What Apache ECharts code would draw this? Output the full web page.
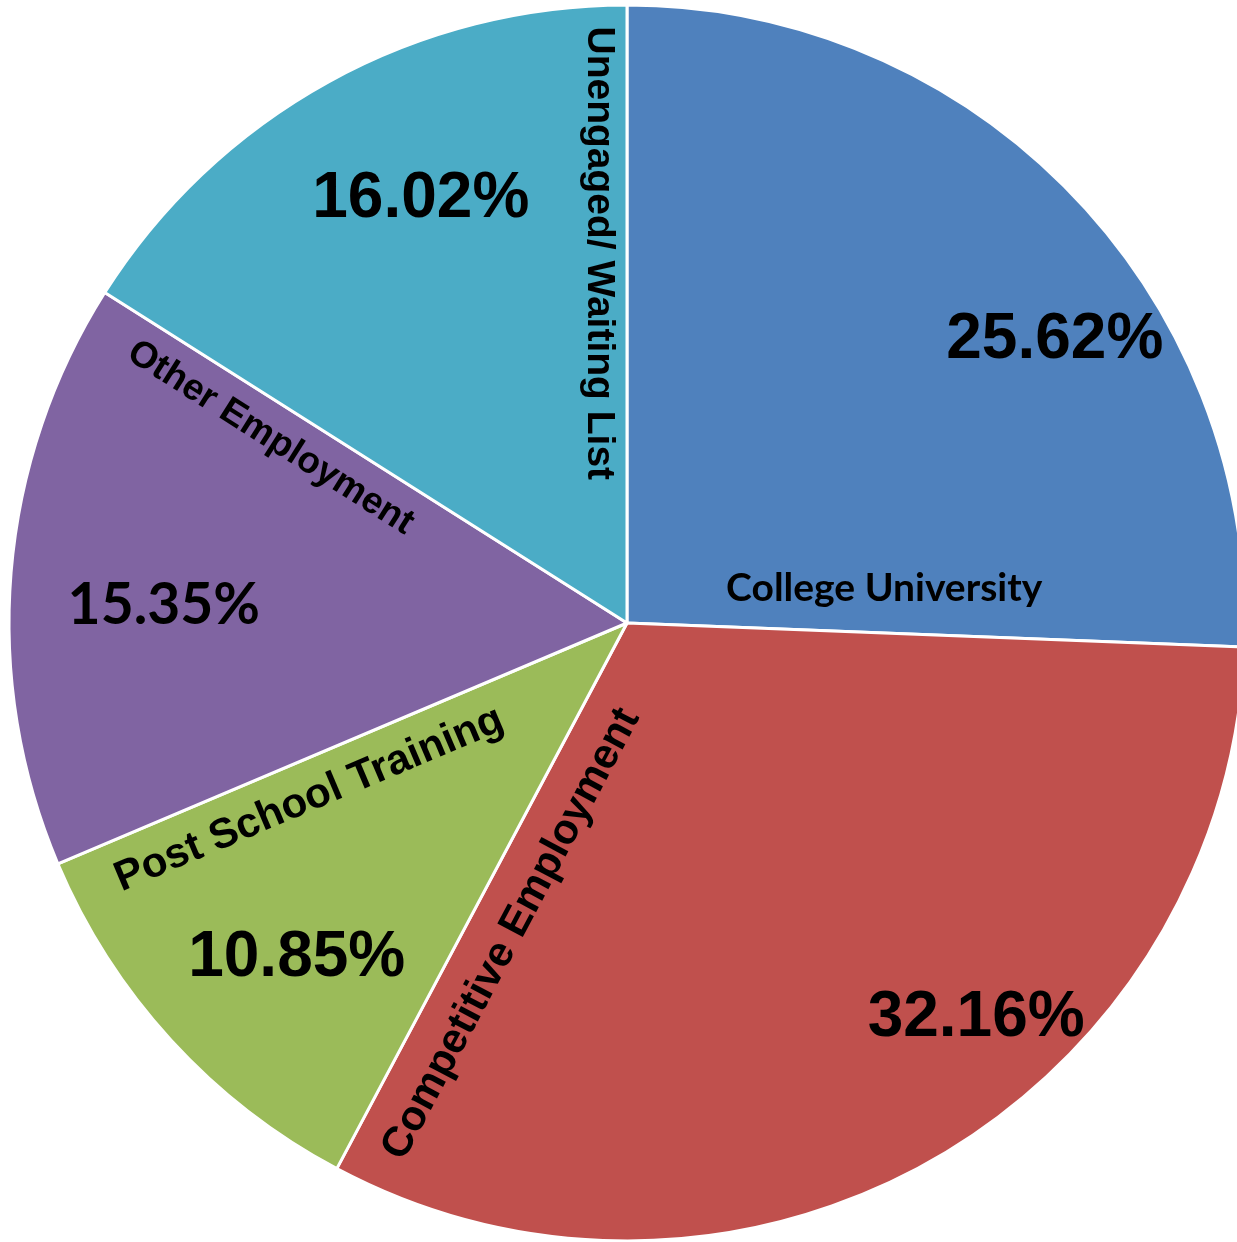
<!DOCTYPE html>
<html><head><meta charset="utf-8">
<script src="https://cdn.jsdelivr.net/npm/echarts/dist/echarts.min.js"></script>
<style>html,body{margin:0;padding:0;background:#fff;overflow:hidden}#c{width:1237px;height:1242px}</style>
</head><body><div id="c"></div>
<script>
// ---- data ----
const categories = ['College University', 'Competitive Employment', 'Post School Training', 'Other Employment', 'Unengaged/ Waiting List'];
const values = [25.62, 32.16, 10.85, 15.35, 16.02];

// ---- styles / layout (not data) ----
const colors = ['#4F81BD', '#C0504D', '#9BBB59', '#8064A2', '#4BACC6'];
const ARIAL = '"Liberation Sans", Arial, sans-serif';
const CALIBRI = 'Lato, "Noto Sans", sans-serif';
const pctFont = [ARIAL, ARIAL, ARIAL, CALIBRI, ARIAL];
const pctSize = [64, 64, 64, 57, 64];
const catFont = [CALIBRI, ARIAL, ARIAL, ARIAL, ARIAL];
const catSize = [39, 42, 42, 37, 39];
// percentage label placement: angle offset from slice mid-angle (deg), radius fraction
const pctAngleOff = [-10.4, 11.6, 3.0, 2.6, -2.9];
const pctRadFrac = [0.83, 0.853, 0.762, 0.75, 0.763];
// category label placement: angle offset from slice end boundary (deg), radius fraction
const catAngleOff = [9.96, 7.6, 6.1, 4.9, 4.4];
const catRadFrac = [0.42, 0.537, 0.588, 0.65, 0.60];
const catHorizontal = [true, false, false, false, false];

const CX = 627, CY = 623, R = 618;
const total = values.reduce((a, b) => a + b, 0);
const cum = [0];
values.forEach((v, i) => cum.push(cum[i] + v));
const startA = 90;
const endAngle = i => startA - 360 * cum[i + 1] / total;
const midAngle = i => startA - 360 * (cum[i] + values[i] / 2) / total;
const polar = (deg, r) => {
  const a = deg * Math.PI / 180;
  return { x: CX + r * Math.cos(a), y: CY - r * Math.sin(a) };
};
const norm = d => { d = ((d % 360) + 360) % 360; return d > 180 ? d - 360 : d; };

const chart = echarts.init(document.getElementById('c'), null, { renderer: 'canvas' });
chart.setOption({
  animation: false,
  backgroundColor: '#ffffff',
  series: [
    {
      type: 'pie',
      center: [CX, CY],
      radius: R,
      startAngle: startA,
      clockwise: true,
      silent: true,
      emphasis: { disabled: true },
      itemStyle: { borderColor: '#ffffff', borderWidth: 3 },
      labelLine: { show: false },
      label: {
        show: true, position: 'inside', color: '#000', fontWeight: 'bold',
        formatter: p => p.value.toFixed(2) + '%'
      },
      data: categories.map((c, i) => ({
        name: c, value: values[i],
        itemStyle: { color: colors[i] },
        label: { fontFamily: pctFont[i], fontSize: pctSize[i] }
      })),
      labelLayout: p => {
        const i = p.dataIndex;
        const pt = polar(midAngle(i) + pctAngleOff[i], pctRadFrac[i] * R);
        return { x: pt.x, y: pt.y, align: 'center', verticalAlign: 'middle', rotate: 0 };
      }
    },
    {
      type: 'pie',
      center: [CX, CY],
      radius: R,
      startAngle: startA,
      clockwise: true,
      silent: true,
      emphasis: { disabled: true },
      itemStyle: { color: 'rgba(0,0,0,0)', borderWidth: 0 },
      labelLine: { show: false },
      label: {
        show: true, position: 'inside', color: '#000', fontWeight: 'bold',
        formatter: '{b}'
      },
      data: categories.map((c, i) => ({
        name: c, value: values[i],
        label: { fontFamily: catFont[i], fontSize: catSize[i] }
      })),
      labelLayout: p => {
        const i = p.dataIndex;
        const e = endAngle(i);
        const pt = polar(e + catAngleOff[i], catRadFrac[i] * R);
        const rot = catHorizontal[i] ? 0 : norm(e + 180);
        return { x: pt.x, y: pt.y, align: 'center', verticalAlign: 'middle', rotate: rot };
      }
    }
  ]
});
</script>
</body></html>
